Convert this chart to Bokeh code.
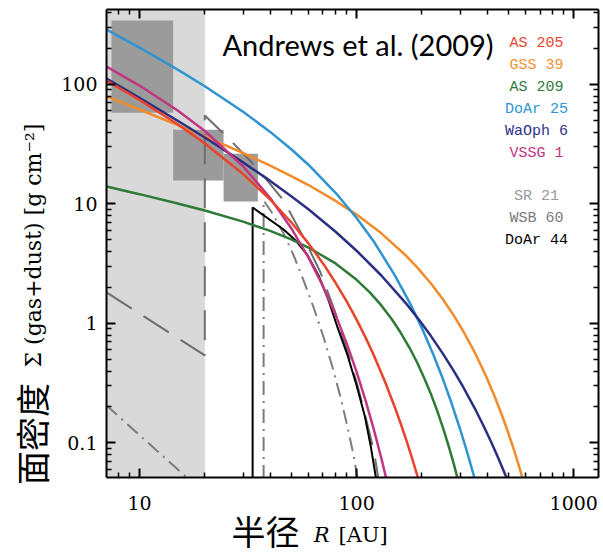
import math
from bokeh.plotting import figure
from bokeh.models import LogAxis, FixedTicker, Label, BoxAnnotation, Range1d, CustomJSTickFormatter
from bokeh.embed import file_html
from bokeh.resources import INLINE

nan = float("nan")

# ---------------- data ----------------
as205_r = [7.05, 10, 15, 20, 30, 40, 50, 60, 70, 80, 90, 100, 110, 120, 135, 150, 160, 170, 180, 195]
as205_s = [108, 74.3, 46.4, 32.1, 17.8, 10.9, 7.03, 4.68, 3.18, 2.19, 1.529, 1.076, 0.761, 0.542,
           0.327, 0.199, 0.1434, 0.1035, 0.0748, 0.046]

gss39_r = [7.05, 10, 15, 20, 30, 40, 50, 60, 80, 100, 130, 170, 190, 220, 250, 280, 310, 350, 390,
           430, 470, 500, 530, 560, 600]
gss39_s = [79.4, 61.7, 45.7, 36.8, 26.7, 20.9, 17.1, 14.4, 10.6, 8.15, 5.68, 3.65, 2.95, 2.16, 1.587,
           1.168, 0.861, 0.572, 0.380, 0.251, 0.1657, 0.1206, 0.0880, 0.0638, 0.0415]

as209_r = [7.05, 10, 15, 20, 30, 40, 50, 60, 80, 100, 115, 130, 145, 160, 175, 190, 205, 220, 235,
           250, 265, 280, 300]
as209_s = [14.0, 12.08, 10.09, 8.81, 7.11, 5.95, 5.05, 4.32, 3.18, 2.32, 1.820, 1.415, 1.091, 0.832,
           0.629, 0.471, 0.3486, 0.256, 0.1858, 0.1335, 0.0951, 0.0671, 0.0415]

doar25_r = [7.05, 10, 15, 20, 30, 40, 50, 60, 80, 100, 120, 150, 175, 200, 225, 250, 275, 300, 325,
            350, 360]
doar25_s = [288, 203.4, 133.1, 96.7, 59.2, 40.1, 28.7, 21.3, 12.4, 7.64, 4.85, 2.53, 1.508, 0.911,
            0.555, 0.341, 0.2097, 0.1296, 0.0805, 0.050, 0.0414]

waoph6_r = [7.05, 10, 15, 20, 30, 40, 50, 60, 80, 100, 130, 170, 190, 220, 250, 280, 310, 350, 385,
            420, 450, 480, 520]
waoph6_s = [112, 77.3, 49.7, 36.0, 22.3, 15.6, 11.6, 9.02, 5.86, 4.06, 2.52, 1.45, 1.125, 0.784,
            0.557, 0.401, 0.2927, 0.195, 0.1379, 0.0985, 0.0742, 0.0561, 0.0389]

vssg1_r = [7.05, 10, 15, 20, 30, 40, 50, 60, 70, 80, 90, 100, 110, 120, 130, 140]
vssg1_s = [141, 97.9, 60.6, 40.8, 20.7, 11.2, 6.27, 3.57, 2.05, 1.18, 0.681, 0.393, 0.226, 0.130,
           0.0744, 0.0426]

sr21_r = [7.05, 16.8, nan, 37.3, 37.3, 41.0, 46.1, 51.3, 57.0, 63.4, 70.5, 77.5, 84.4, 90.9, 96.9, 101]
sr21_s = [0.206, 0.05, nan, 0.05, 10.7, 8.33, 5.66, 3.71, 2.29, 1.36, 0.763, 0.428, 0.240, 0.135,
          0.0786, 0.05]

wsb60_r = [7.05, 20, 20, 26.3, 35.0, 46.1, 57.0, 68.2, 79.2, 89.9, 101, 111, 120, 126]
wsb60_s = [1.82, 0.54, 55.0, 34.0, 19.8, 10.7, 5.24, 2.67, 1.28, 0.618, 0.303, 0.154, 0.0866, 0.05]

doar44_r = [33.2, 33.2, 46.1, 52.4, 59.5, 66.8, 74.3, 81.7, 90.9, 100, 108.9, 116, 123]
doar44_s = [0.05, 9.35, 6.12, 4.95, 3.71, 2.52, 1.56, 0.926, 0.540, 0.303, 0.170, 0.0953, 0.05]

box_left = [7.43, 14.3, 24.4]
box_right = [14.3, 24.4, 35.1]
box_bottom = [58.0, 15.7, 10.5]
box_top = [343, 41.8, 26.3]

shade_edge = 20

x_major = [10, 100, 1000]
y_major = [0.1, 1, 10, 100]

names = ["AS 205", "GSS 39", "AS 209", "DoAr 25", "WaOph 6", "VSSG 1", "SR 21", "WSB 60", "DoAr 44"]
text_colors = ["#e8452f", "#f39232", "#2f7a3c", "#2d96d3", "#2f3288", "#c2347f", "#9a9a9a", "#7a7a7a", "#000000"]

# ---------------- figure ----------------
p = figure(x_axis_type="log", y_axis_type="log",
           x_range=Range1d(7.05, 1300), y_range=Range1d(0.0514, 424),
           frame_width=492, frame_height=468,
           min_border_left=106, min_border_top=9, min_border_right=3, min_border_bottom=77,
           output_backend="svg", toolbar_location=None)
p.grid.visible = False
p.outline_line_color = None
p.background_fill_color = "white"
p.border_fill_color = "white"

x_minor = [m * 10.0 ** k for k in range(0, 3) for m in range(2, 10) if 7.05 < m * 10.0 ** k < 1300]
y_minor = [m * 10.0 ** k for k in range(-2, 3) for m in range(2, 10) if 0.0514 < m * 10.0 ** k < 424]
xt = FixedTicker(ticks=x_major, minor_ticks=x_minor)
yt = FixedTicker(ticks=y_major, minor_ticks=y_minor)

fmt = CustomJSTickFormatter(code="return tick.toString();")
blank = CustomJSTickFormatter(code="return '';")

def style(ax, show):
    ax.axis_line_width = 2
    ax.axis_line_color = "black"
    ax.major_tick_in = 9
    ax.major_tick_out = 0
    ax.minor_tick_in = 5
    ax.minor_tick_out = 0
    ax.major_tick_line_width = 2
    ax.minor_tick_line_width = 1.5
    ax.major_tick_line_color = "black"
    ax.minor_tick_line_color = "black"
    if show:
        ax.major_label_text_font = "DejaVu Serif"
        ax.major_label_text_font_size = "19px"
        ax.major_label_text_color = "black"
    else:
        ax.major_label_text_font_size = "0px"
        ax.major_label_standoff = 0

p.xaxis.ticker = xt
p.yaxis.ticker = yt
p.xaxis.formatter = fmt
p.yaxis.formatter = fmt
style(p.xaxis[0], True)
style(p.yaxis[0], True)
p.xaxis.major_label_standoff = 18
p.yaxis.major_label_standoff = 9

top = LogAxis(ticker=xt, formatter=blank)
right = LogAxis(ticker=yt, formatter=blank)
style(top, False)
style(right, False)
p.add_layout(top, "above")
p.add_layout(right, "right")

# shaded inner region
p.add_layout(BoxAnnotation(right=shade_edge, fill_color="#d9d9d9", fill_alpha=1.0,
                           line_color=None, level="underlay"))

# boxes
p.quad(left=box_left, right=box_right, bottom=box_bottom, top=box_top,
       fill_color="#9b9b9b", line_color=None)

# gray / black transition disks
p.line(wsb60_r, wsb60_s, line_color="#6e6e6e", line_width=2, line_dash="30 14")
p.line(sr21_r, sr21_s, line_color="#7c7c7c", line_width=2, line_dash="14 6 2 6")
p.line(doar44_r, doar44_s, line_color="black", line_width=2)

# colored disks
curves = [(as209_r, as209_s, "#2e7b37"), (gss39_r, gss39_s, "#f28b2b"),
          (doar25_r, doar25_s, "#2f94cf"), (waoph6_r, waoph6_s, "#2d2f83"),
          (vssg1_r, vssg1_s, "#c13583"), (as205_r, as205_s, "#e9432b")]
for r, s, c in curves:
    p.line(r, s, line_color=c, line_width=2.5)

# title text
p.add_layout(Label(x=116, y=433, x_units="screen", y_units="screen",
                   text="Andrews et al. (2009)", text_font="Lato", text_font_size="29px",
                   text_baseline="middle", text_align="left", text_color="black"))

# legend texts
legend_y = [434, 412, 390, 368, 346, 324, 281, 259, 237]
for nm, col, yy in zip(names, text_colors, legend_y):
    p.add_layout(Label(x=430, y=yy, x_units="screen", y_units="screen", text=nm,
                       text_font="Liberation Mono", text_font_size="15px",
                       text_align="center", text_baseline="middle", text_color=col))

# axis titles: kept in an outer side panel so they are not clipped to the frame,
# positioned through the plot's own scales
p.add_layout(Label(x=3.18, y=0.119, text="面密度",
                   text_font="Noto Sans CJK SC", text_font_size="34px", angle=math.pi / 2,
                   text_align="center", text_baseline="middle", text_color="black"), "right")
p.add_layout(Label(x=3.25, y=4.49, text="Σ (gas+dust) [g cm⁻²]",
                   text_font="DejaVu Serif", text_font_size="22px", angle=math.pi / 2,
                   text_align="center", text_baseline="middle", text_color="black"), "right")
p.add_layout(Label(x=38.1, y=0.0185, text="半径",
                   text_font="Noto Sans CJK SC", text_font_size="34px",
                   text_align="center", text_baseline="middle", text_color="black"), "right")
p.add_layout(Label(x=63.4, y=0.0170, text="R",
                   text_font="DejaVu Serif", text_font_size="21px", text_font_style="italic",
                   text_align="left", text_baseline="middle", text_color="black"), "right")
p.add_layout(Label(x=82.5, y=0.0170, text="[AU]",
                   text_font="DejaVu Serif", text_font_size="21px",
                   text_align="left", text_baseline="middle", text_color="black"), "right")

open("out.html", "w").write(file_html(p, INLINE))
